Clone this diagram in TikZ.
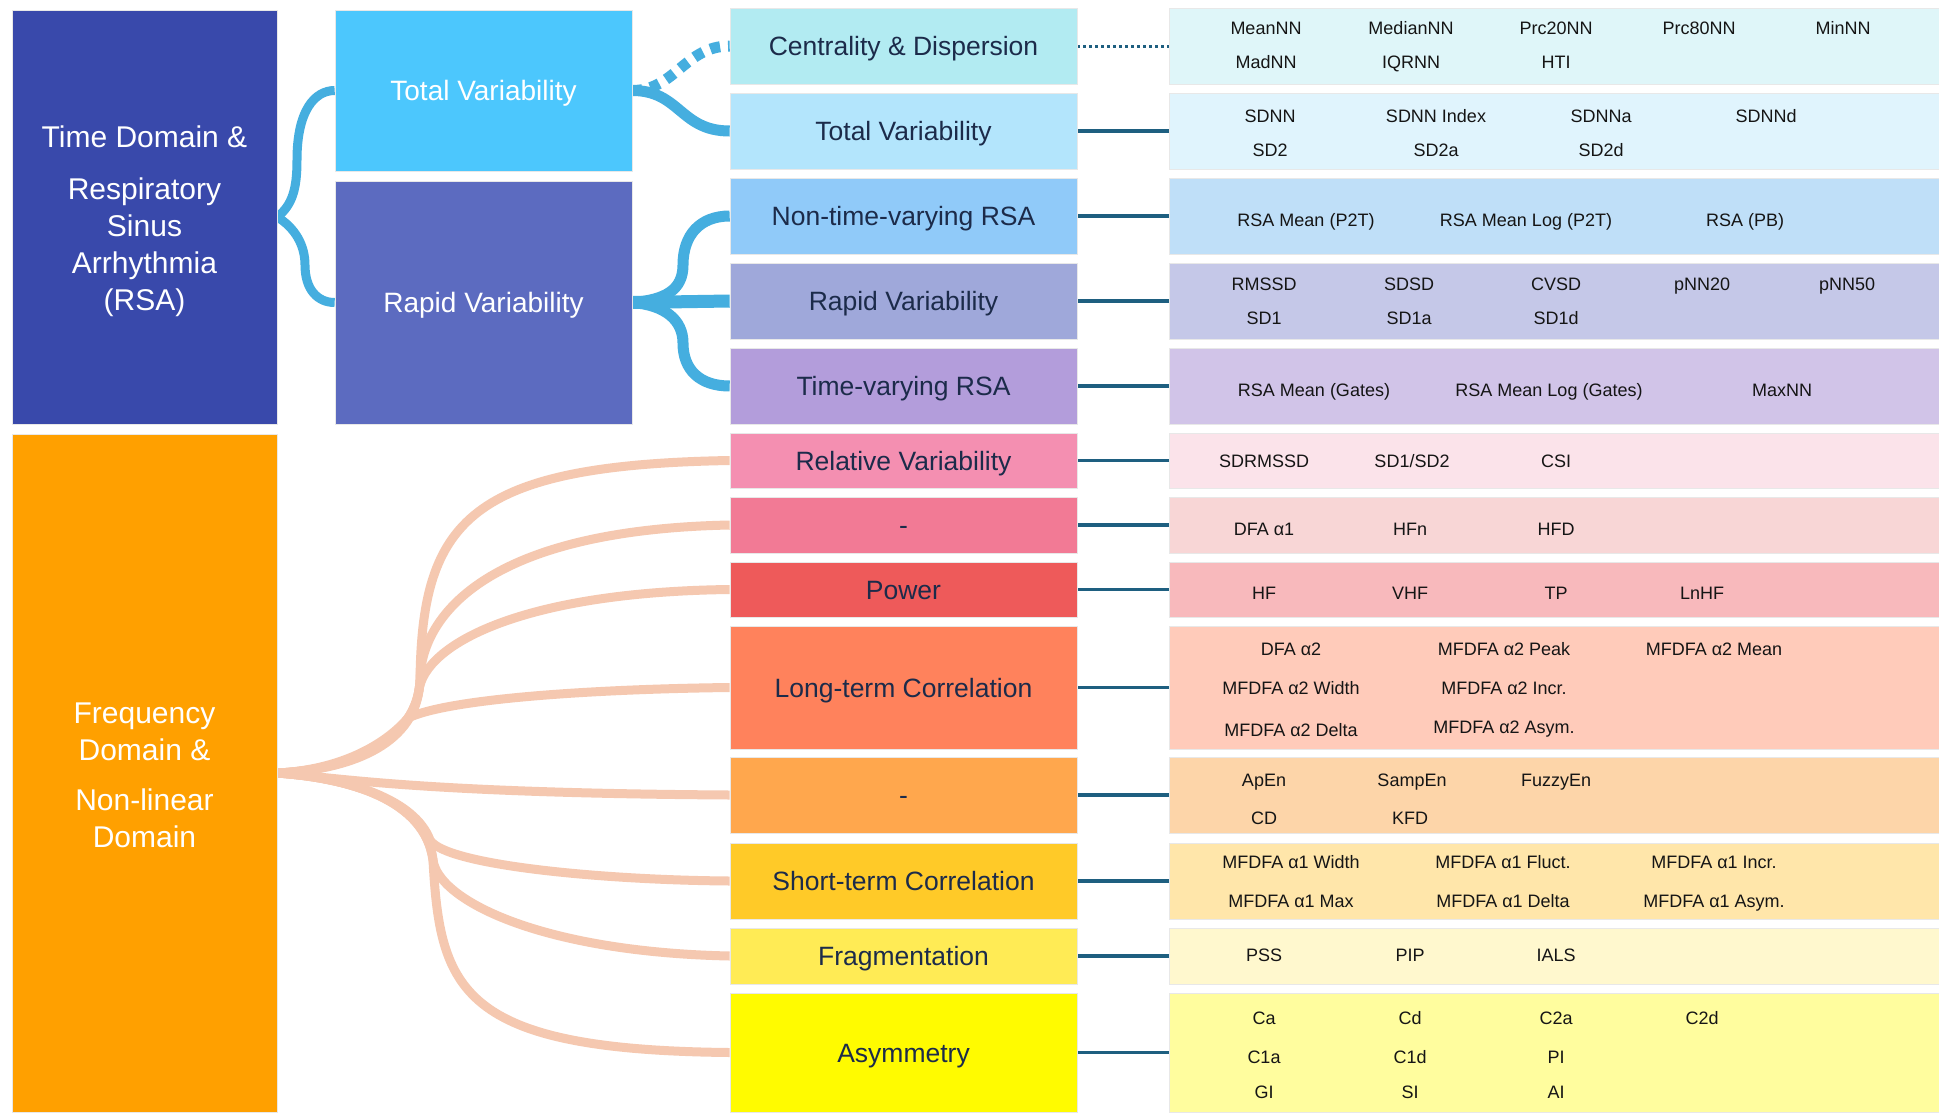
\documentclass[tikz,border=0pt]{standalone}
\usepackage{fontspec}
\setmainfont{Liberation Sans}
\usetikzlibrary{backgrounds}
\pgfdeclarelayer{bglayer}
\pgfdeclarelayer{connlayer}
\pgfsetlayers{bglayer,connlayer,main}
\definecolor{tdblue}{HTML}{3949AB}
\definecolor{fdorange}{HTML}{FFA000}
\definecolor{tvblue}{HTML}{4CC7FD}
\definecolor{rvblue}{HTML}{5C6BC0}
\definecolor{navytxt}{HTML}{1C2B4A}
\definecolor{metrictxt}{HTML}{151515}
\definecolor{linkblue}{HTML}{45AEDF}
\definecolor{peachc}{HTML}{F5C8B0}
\definecolor{leafc}{HTML}{1E5F80}
% middle column
\definecolor{ma}{HTML}{B2EBF2}
\definecolor{mb}{HTML}{B3E5FC}
\definecolor{mc}{HTML}{90CAF9}
\definecolor{md}{HTML}{9FA8DA}
\definecolor{me}{HTML}{B39DDB}
\definecolor{mf}{HTML}{F48FB1}
\definecolor{mg}{HTML}{F27A95}
\definecolor{mh}{HTML}{EE5A5A}
\definecolor{mi}{HTML}{FF825C}
\definecolor{mj}{HTML}{FFA74D}
\definecolor{mk}{HTML}{FFCA28}
\definecolor{ml}{HTML}{FFEB55}
\definecolor{mm}{HTML}{FFFB00}
% right column
\definecolor{ra}{HTML}{DFF6F9}
\definecolor{rb}{HTML}{E0F4FD}
\definecolor{rc}{HTML}{BFDFF8}
\definecolor{rd}{HTML}{C5C8E8}
\definecolor{re}{HTML}{D1C4E8}
\definecolor{rf}{HTML}{FBE3EA}
\definecolor{rg}{HTML}{F8D6D6}
\definecolor{rh}{HTML}{F8B9BC}
\definecolor{ri}{HTML}{FFCBBA}
\definecolor{rj}{HTML}{FDD5A9}
\definecolor{rk}{HTML}{FFE6AA}
\definecolor{rl}{HTML}{FFF8CE}
\definecolor{rm}{HTML}{FFFD9E}
\begin{document}
\begin{tikzpicture}[x=1pt,y=-1pt,
  box/.style={rectangle, inner sep=0pt, draw=black!9, line width=0.7pt},
  lbox/.style={box, text=white, align=center, minimum width=265pt, font=\fontsize{30}{37}\selectfont},
  sbox/.style={box, text=white, minimum width=297pt, font=\fontsize{28}{32}\selectfont, text height=20pt, text depth=0pt},
  mbox/.style={box, minimum width=347pt, text=navytxt, font=\fontsize{26.5}{30}\selectfont, text height=19pt, text depth=0pt},
  rbox/.style={box, minimum width=770pt},
  metric/.style={inner sep=0pt, text=metrictxt, font=\fontsize{18}{20}\selectfont, text height=13pt, text depth=0pt},
  tdlink/.style={draw=linkblue, line width=9pt},
  blink/.style={draw=linkblue, line width=11pt},
  peach/.style={draw=peachc, line width=9pt},
  leaf/.style={draw=leafc, line width=3.5pt},
  leafdot/.style={draw=leafc, line width=3pt, dash pattern=on 3pt off 3pt}
]
\useasboundingbox (0,0) rectangle (1939,1112);
\begin{pgfonlayer}{bglayer}
\fill[white] (0,0) rectangle (1939,1112);
\end{pgfonlayer}

% left column
\node[lbox, fill=tdblue, minimum height=414pt] (td) at (144.5,217) {\rule{0pt}{30pt}Time Domain \&\\[15pt]Respiratory\\Sinus\\Arrhythmia\\(RSA)};
\node[lbox, fill=fdorange, minimum height=678pt] (fd) at (144.5,773) {\rule{0pt}{25.5pt}Frequency\\Domain \&\\[13.5pt]Non-linear\\Domain};

% second column
\node[sbox, fill=tvblue, minimum height=161pt] (tv) at (483.5,90.5) {Total Variability};
\node[sbox, fill=rvblue, minimum height=243pt] (rv) at (483.5,302.5) {Rapid Variability};

% middle column
\node[mbox, fill=ma, minimum height=76pt] (m1) at (903.5,46) {Centrality \& Dispersion};
\node[mbox, fill=mb, minimum height=76pt] (m2) at (903.5,131) {Total Variability};
\node[mbox, fill=mc, minimum height=76pt] (m3) at (903.5,216) {Non-time-varying RSA};
\node[mbox, fill=md, minimum height=76pt] (m4) at (903.5,301) {Rapid Variability};
\node[mbox, fill=me, minimum height=76pt] (m5) at (903.5,386) {Time-varying RSA};
\node[mbox, fill=mf, minimum height=55pt] (m6) at (903.5,460.5) {Relative Variability};
\node[mbox, fill=mg, minimum height=56pt] (m7) at (903.5,525) {-};
\node[mbox, fill=mh, minimum height=55pt] (m8) at (903.5,589.5) {Power};
\node[mbox, fill=mi, minimum height=123pt] (m9) at (903.5,687.5) {Long-term Correlation};
\node[mbox, fill=mj, minimum height=76pt] (m10) at (903.5,795) {-};
\node[mbox, fill=mk, minimum height=76pt] (m11) at (903.5,881) {Short-term Correlation};
\node[mbox, fill=ml, minimum height=56pt] (m12) at (903.5,956) {Fragmentation};
\node[mbox, fill=mm, minimum height=119pt] (m13) at (903.5,1052.5) {Asymmetry};

% right column
\node[rbox, fill=ra, minimum height=76pt] (r1) at (1554,46) {};
\node[rbox, fill=rb, minimum height=76pt] (r2) at (1554,131) {};
\node[rbox, fill=rc, minimum height=76pt] (r3) at (1554,216) {};
\node[rbox, fill=rd, minimum height=76pt] (r4) at (1554,301) {};
\node[rbox, fill=re, minimum height=76pt] (r5) at (1554,386) {};
\node[rbox, fill=rf, minimum height=55pt] (r6) at (1554,460.5) {};
\node[rbox, fill=rg, minimum height=56pt] (r7) at (1554,525) {};
\node[rbox, fill=rh, minimum height=55pt] (r8) at (1554,589.5) {};
\node[rbox, fill=ri, minimum height=123pt] (r9) at (1554,687.5) {};
\node[rbox, fill=rj, minimum height=76pt] (r10) at (1554,795) {};
\node[rbox, fill=rk, minimum height=76pt] (r11) at (1554,881) {};
\node[rbox, fill=rl, minimum height=56pt] (r12) at (1554,956) {};
\node[rbox, fill=rm, minimum height=119pt] (r13) at (1554,1052.5) {};

% metric labels
\foreach \t/\x/\y in {
  MeanNN/1266/28, MedianNN/1411/28, Prc20NN/1556/28, Prc80NN/1699/28, MinNN/1843/28,
  MadNN/1266/62, IQRNN/1411/62, HTI/1556/62,
  SDNN/1270/116, SDNN Index/1436/116, SDNNa/1601/116, SDNNd/1766/116,
  SD2/1270/150, SD2a/1436/150, SD2d/1601/150,
  RSA Mean (P2T)/1306/220, RSA Mean Log (P2T)/1526/220, RSA (PB)/1745/220,
  RMSSD/1264/284, SDSD/1409/284, CVSD/1556/284, pNN20/1702/284, pNN50/1847/284,
  SD1/1264/318, SD1a/1409/318, SD1d/1556/318,
  RSA Mean (Gates)/1314/390, RSA Mean Log (Gates)/1549/390, MaxNN/1782/390,
  SDRMSSD/1264/461, {SD1/SD2}/1412/461, CSI/1556/461,
  DFA α1/1264/529, HFn/1410/529, HFD/1556/529,
  HF/1264/593, VHF/1410/593, TP/1556/593, LnHF/1702/593,
  DFA α2/1291/649, MFDFA α2 Peak/1504/649, MFDFA α2 Mean/1714/649,
  MFDFA α2 Width/1291/688, MFDFA α2 Incr./1504/688,
  MFDFA α2 Delta/1291/730, MFDFA α2 Asym./1504/727,
  ApEn/1264/780, SampEn/1412/780, FuzzyEn/1556/780, CD/1264/818, KFD/1410/818,
  MFDFA α1 Width/1291/862, MFDFA α1 Fluct./1503/862, MFDFA α1 Incr./1714/862,
  MFDFA α1 Max/1291/901, MFDFA α1 Delta/1503/901, MFDFA α1 Asym./1714/901,
  PSS/1264/955, PIP/1410/955, IALS/1556/955,
  Ca/1264/1018, Cd/1410/1018, C2a/1556/1018, C2d/1702/1018,
  C1a/1264/1057, C1d/1410/1057, PI/1556/1057,
  GI/1264/1092, SI/1410/1092, AI/1556/1092}
  \node[metric] (lab-\x-\y) at (\x,\y) {\t};

% connectors
\begin{pgfonlayer}{connlayer}
\draw[tdlink] (td.east) .. controls (292,205) and (297,190) .. (297,160) .. controls (297,110) and (315,90.5) .. (tv.west);
\draw[tdlink] (td.east) .. controls (295,228) and (305,245) .. (305,265) .. controls (305,290) and (318,302.5) .. (rv.west);
\draw[blink] (tv.east) .. controls (680,90.5) and (680,131) .. (m2.west);
\draw[blink, dash pattern=on 10pt off 8pt] (tv.east) .. controls (675,90.5) and (685,46) .. (m1.west);
\draw[blink] (rv.east) .. controls (665,300) and (683,290) .. (683,265) .. controls (683,235) and (700,216) .. (m3.west);
\draw[blink, line width=13pt] (rv.east) -- (m4.west);
\draw[blink] (rv.east) .. controls (665,305) and (683,320) .. (683,343) .. controls (683,370) and (700,386) .. (m5.west);

\draw[peach] (fd.east) .. controls (350,770) and (418,740) .. (420,680) .. controls (422,520) and (470,465) .. (m6.west);
\draw[peach] (fd.east) .. controls (350,770) and (418,740) .. (420,680) .. controls (421,620) and (480,530) .. (m7.west);
\draw[peach] (fd.east) .. controls (350,770) and (412,745) .. (419,690) .. controls (425,645) and (520,592) .. (m8.west);
\draw[peach] (fd.east) .. controls (340,770) and (385,745) .. (408,718) .. controls (450,698) and (600,689) .. (m9.west);
\draw[peach] (fd.east) .. controls (340,778) and (420,793) .. (m10.west);
\draw[peach] (fd.east) .. controls (350,778) and (415,800) .. (430,840) .. controls (445,865) and (600,880) .. (m11.west);
\draw[peach] (fd.east) .. controls (350,778) and (425,800) .. (433,860) .. controls (438,900) and (540,952) .. (m12.west);
\draw[peach] (fd.east) .. controls (350,778) and (425,800) .. (433,860) .. controls (440,990) and (460,1050) .. (m13.west);

\draw[leafdot] (m1.east) -- (r1.west);
\foreach \i in {2,...,13} \draw[leaf] (m\i.east) -- (r\i.west);
\end{pgfonlayer}
\end{tikzpicture}
\end{document}
